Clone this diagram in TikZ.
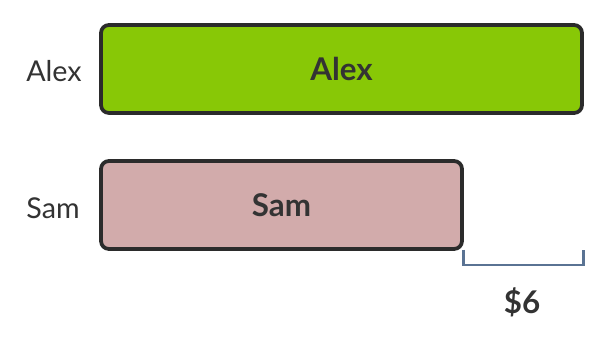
\documentclass[tikz,border=0pt]{standalone}
\usepackage{fontspec}
\setmainfont{Lato}
\usetikzlibrary{positioning}

\definecolor{barline}{HTML}{2B2B2B}
\definecolor{alexgreen}{HTML}{88C806}
\definecolor{sampink}{HTML}{D2ABAB}
\definecolor{bracketblue}{HTML}{5A7393}
\definecolor{textgray}{HTML}{333333}

\tikzset{
  bar/.style={draw=barline, line width=2.8pt, rounded corners=6pt,
    minimum height=66pt, inner sep=0pt, text=textgray,
    font=\fontsize{23.5}{26}\selectfont\bfseries},
  rowlabel/.style={text=textgray, inner sep=0pt,
    font=\fontsize{21.5}{24}\selectfont},
}

\begin{document}
\begin{tikzpicture}[x=0.75pt, y=-0.75pt]
\useasboundingbox (0,0) rectangle (608,338);
\node[bar, fill=alexgreen, minimum width=360.75pt] (alexbar) at (341.5,69) {Alex};
\node[bar, fill=sampink, minimum width=270.75pt] (sambar) at (281.5,205) {Sam};
\node[rowlabel] (alexlabel) at (54,71) {Alex};
\node[rowlabel] (samlabel) at (53,208) {Sam};
\coordinate (gapleft) at (sambar.south east |- 0,265);
\coordinate (gapright) at (alexbar.south east |- 0,265);
\draw[bracketblue, line width=2.2pt] ([yshift=11.5pt]gapleft) -- (gapleft) -- (gapright) -- ([yshift=11.5pt]gapright);
\node[rowlabel, font=\fontsize{23.5}{26}\selectfont\bfseries] (gaplabel) at (522,302) {\$6};
\end{tikzpicture}
\end{document}
